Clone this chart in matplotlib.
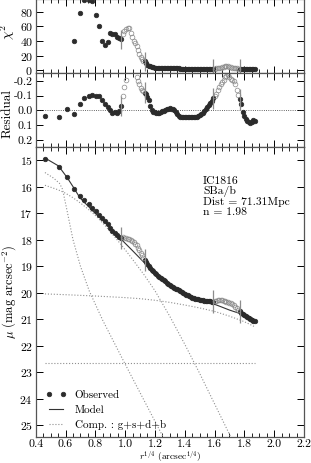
import numpy as np
import matplotlib
matplotlib.use('Agg')
import matplotlib.pyplot as plt
from matplotlib.lines import Line2D
from matplotlib.ticker import FormatStrFormatter

plt.rcParams['font.family'] = 'serif'
plt.rcParams['font.serif'] = ['cmr10']
plt.rcParams['mathtext.fontset'] = 'cm'
plt.rcParams['axes.formatter.use_mathtext'] = True

# observed profile, split into segments (filled = fitted, open = excluded)
x_inner = [0.465, 0.553, 0.611, 0.657, 0.695, 0.727, 0.756, 0.781, 0.805, 0.826,
           0.846, 0.865, 0.883, 0.899, 0.915, 0.930, 0.945, 0.958, 0.972]
mu_inner = [14.97, 15.26, 15.65, 16.09, 16.36, 16.52, 16.66, 16.80, 16.94, 17.06,
            17.17, 17.30, 17.43, 17.55, 17.66, 17.75, 17.84, 17.90, 17.95]
res_inner = [0.039, 0.043, -0.009, 0.027, -0.045, -0.081, -0.095, -0.105, -0.097, -0.095,
             -0.070, -0.045, -0.020, 0.000, 0.020, 0.014, 0.020, 0.005, -0.030]
chi_inner = [150, 140, 130, 40, 79, 96, 96, 95, 75, 61, 40, 35, 38, 51, 50, 49, 45, 44, 42]

x_bump1 = [0.983, 0.995, 1.006, 1.018, 1.028, 1.039, 1.049, 1.059, 1.069, 1.078,
           1.087, 1.096, 1.105, 1.114, 1.122]
mu_bump1 = [17.92, 17.93, 17.94, 17.96, 17.98, 18.01, 18.05, 18.09, 18.15, 18.22,
            18.30, 18.40, 18.50, 18.60, 18.70]
res_bump1 = [-0.097, -0.160, -0.205, -0.270, -0.300, -0.320, -0.320, -0.300, -0.270, -0.227,
             -0.200, -0.175, -0.150, -0.138, -0.128]
chi_bump1 = [50, 54, 57, 58, 58, 51, 46, 40, 37, 33, 27, 22, 18, 15, 13]

x_mid = [1.13, 1.14, 1.15, 1.16, 1.17, 1.18, 1.19, 1.20, 1.21, 1.22, 1.23, 1.24,
         1.25, 1.26, 1.27, 1.28, 1.29, 1.30, 1.31, 1.32, 1.33, 1.34, 1.35, 1.36,
         1.37, 1.38, 1.39, 1.40, 1.41, 1.42, 1.43, 1.44, 1.45, 1.46, 1.47, 1.48,
         1.49, 1.50, 1.51, 1.52, 1.53, 1.54, 1.55, 1.56, 1.57, 1.58, 1.59]
mu_mid = [18.78, 18.86, 18.93, 19.00, 19.07, 19.13, 19.19, 19.25, 19.31, 19.36, 19.41, 19.45,
          19.50, 19.54, 19.58, 19.62, 19.66, 19.70, 19.74, 19.78, 19.81, 19.85, 19.88, 19.92,
          19.95, 19.99, 20.02, 20.05, 20.08, 20.11, 20.14, 20.17, 20.19, 20.21, 20.23, 20.24,
          20.26, 20.27, 20.28, 20.29, 20.30, 20.31, 20.32, 20.33, 20.33, 20.34, 20.34]
res_mid = [-0.119, -0.108, -0.090, -0.068, -0.030, -0.005, 0.008, 0.014, 0.016, 0.017, 0.016, 0.012,
           0.006, 0.002, -0.002, -0.008, -0.012, -0.013, -0.012, -0.008, 0.000, 0.012, 0.025, 0.035,
           0.043, 0.046, 0.047, 0.047, 0.047, 0.047, 0.047, 0.047, 0.047, 0.046, 0.044, 0.042,
           0.039, 0.032, 0.024, 0.016, 0.005, -0.008, -0.022, -0.036, -0.050, -0.065, -0.081]
chi_mid = [12, 9.5, 7.5, 6.0, 5.0, 4.2, 3.6, 3.2, 3.0, 2.9, 2.8, 2.8,
           2.7, 2.7, 2.6, 2.6, 2.5, 2.5, 2.4, 2.4, 2.4, 2.3, 2.3, 2.3,
           2.2, 2.2, 2.2, 2.1, 2.1, 2.1, 2.1, 2.0, 2.0, 2.0, 2.0, 2.0,
           1.9, 1.9, 1.9, 1.9, 1.9, 1.9, 1.8, 1.8, 1.8, 1.8, 1.8]

x_bump2 = [1.60, 1.61, 1.62, 1.63, 1.64, 1.65, 1.66, 1.67, 1.68, 1.69, 1.70, 1.71,
           1.72, 1.73, 1.74, 1.75, 1.76]
mu_bump2 = [20.32, 20.30, 20.28, 20.27, 20.27, 20.28, 20.30, 20.32, 20.34, 20.36, 20.38, 20.41,
            20.44, 20.48, 20.53, 20.58, 20.65]
res_bump2 = [-0.098, -0.113, -0.135, -0.160, -0.180, -0.195, -0.207, -0.225, -0.235, -0.240,
             -0.228, -0.214, -0.208, -0.200, -0.180, -0.135, -0.105]
chi_bump2 = [2.0, 2.3, 2.6, 3.0, 3.5, 4.0, 4.6, 5.2, 5.6, 5.4, 4.8, 4.0, 3.4, 3.0, 2.6, 2.4, 2.2]

x_outer = [1.77, 1.78, 1.79, 1.80, 1.81, 1.82, 1.83, 1.84, 1.85, 1.86, 1.87]
mu_outer = [20.71, 20.76, 20.81, 20.86, 20.90, 20.94, 20.97, 21.00, 21.03, 21.06, 21.09]
res_outer = [-0.075, -0.040, 0.010, 0.040, 0.055, 0.070, 0.080, 0.084, 0.080, 0.066, 0.072]
chi_outer = [2.1, 2.0, 1.9, 1.8, 1.7, 1.6, 1.6, 1.5, 1.5, 1.4, 1.2]

# model
model_x = [0.465, 0.553, 0.611, 0.657, 0.695, 0.727, 0.756, 0.781, 0.805, 0.826, 0.846,
           0.865, 0.883, 0.899, 0.915, 0.930, 0.945, 0.958, 0.972, 1.05, 1.13, 1.17,
           1.21, 1.26, 1.30, 1.35, 1.40, 1.45, 1.50, 1.55, 1.59, 1.65, 1.70, 1.77,
           1.80, 1.84, 1.87]
model_mu = [14.93, 15.22, 15.66, 16.06, 16.41, 16.60, 16.76, 16.91, 17.04, 17.16, 17.24,
            17.35, 17.45, 17.55, 17.64, 17.74, 17.82, 17.90, 17.98, 18.42, 18.88, 19.10,
            19.29, 19.54, 19.71, 19.86, 20.00, 20.14, 20.24, 20.34, 20.42, 20.55, 20.66, 20.79,
            20.82, 20.92, 21.02]

# components: g, s, d, b
comp_g_x = [0.462, 1.87]
comp_g_mu = [22.65, 22.65]
comp_s_x = [0.462, 0.55, 0.60, 0.65, 0.70, 0.75, 0.81, 0.87, 0.93, 0.97, 1.03, 1.13,
            1.20, 1.30, 1.40, 1.50, 1.60, 1.70, 1.75]
comp_s_mu = [15.95, 16.12, 16.25, 16.42, 16.62, 16.84, 17.14, 17.50, 17.90, 18.17, 18.60, 19.35,
             19.93, 20.90, 21.95, 23.05, 24.20, 25.35, 25.95]
comp_d_x = [0.462, 0.6, 0.8, 1.0, 1.1, 1.2, 1.3, 1.4, 1.5, 1.6, 1.7, 1.8, 1.87]
comp_d_mu = [20.05, 20.08, 20.13, 20.19, 20.23, 20.29, 20.37, 20.47, 20.58, 20.71, 20.89, 21.10, 21.29]
comp_b_x = [0.462, 0.52, 0.56, 0.58, 0.61, 0.65, 0.70, 0.76, 0.85, 1.0, 1.256, 1.30]
comp_b_mu = [15.47, 15.68, 15.88, 16.10, 16.90, 18.00, 19.00, 19.95, 21.05, 22.70, 25.46, 25.95]

# break radii and marker centres
brk_x = [0.972, 1.13, 1.59, 1.77]
brk_chi = [42, 12, 1.8, 2.1]
brk_res = [-0.03, -0.119, -0.081, -0.075]
brk_mu = [17.95, 18.78, 20.34, 20.71]

fig = plt.figure(figsize=(3.11, 4.63), dpi=100)
L, W = 0.1148, 0.8627
ax1 = fig.add_axes([L, 0.8415, W, 0.1598])
ax2 = fig.add_axes([L, 0.6817, W, 0.1598])
ax3 = fig.add_axes([L, 0.0562, W, 0.6255])

fill_kw = dict(ls='none', marker='o', ms=3.3, mfc='#2b2b2b', mec='#2b2b2b', mew=0.5)
open_kw = dict(ls='none', marker='o', ms=3.4, mfc='none', mec='#8a8a8a', mew=0.5)
brk_col = '#8c8c8c'

# chi^2
for xs, ys in [(x_inner, chi_inner), (x_mid, chi_mid), (x_outer, chi_outer)]:
    ax1.plot(xs, ys, **fill_kw)
for xs, ys in [(x_bump1, chi_bump1), (x_bump2, chi_bump2)]:
    ax1.plot(xs, ys, **open_kw)
ax1.vlines(brk_x, np.array(brk_chi) - 13, np.array(brk_chi) + 13, color=brk_col, lw=0.9)
ax1.set_ylim(-4.5, 97)
ax1.set_yticks([0, 20, 40, 60, 80])
ax1.set_ylabel(r'$\chi^2$', fontsize=10)
ax1.yaxis.set_label_coords(-0.068, 0.56)

# residual
ax2.axhline(0, color='#333333', lw=0.6, ls=':')
for xs, ys in [(x_inner, res_inner), (x_mid, res_mid), (x_outer, res_outer)]:
    ax2.plot(xs, ys, **fill_kw)
for xs, ys in [(x_bump1, res_bump1), (x_bump2, res_bump2)]:
    ax2.plot(xs, ys, **open_kw)
ax2.vlines(brk_x, np.array(brk_res) - 0.07, np.array(brk_res) + 0.07, color=brk_col, lw=0.9)
ax2.set_ylim(0.25, -0.25)
ax2.set_yticks([-0.2, -0.1, 0.0, 0.1, 0.2])
ax2.set_ylabel('Residual', fontsize=9.5)
ax2.yaxis.set_label_coords(-0.083, 0.46)

# surface brightness profile
comp_kw = dict(color='#8f8f8f', lw=0.8, ls=':')
ax3.plot(comp_g_x, comp_g_mu, **comp_kw)
ax3.plot(comp_s_x, comp_s_mu, **comp_kw)
ax3.plot(comp_d_x, comp_d_mu, **comp_kw)
ax3.plot(comp_b_x, comp_b_mu, **comp_kw)
ax3.plot(model_x, model_mu, color='#333333', lw=0.8)
for xs, ys in [(x_inner, mu_inner), (x_mid, mu_mid), (x_outer, mu_outer)]:
    ax3.plot(xs, ys, **fill_kw)
for xs, ys in [(x_bump1, mu_bump1), (x_bump2, mu_bump2)]:
    ax3.plot(xs, ys, **open_kw)
ax3.vlines(brk_x, np.array(brk_mu) - 0.42, np.array(brk_mu) + 0.42, color=brk_col, lw=0.9)
ax3.set_ylim(25.45, 14.52)
ax3.set_yticks(range(15, 26))
ax3.set_ylabel(r'$\mu$ (mag arcsec$^{-2}$)', fontsize=9)
ax3.yaxis.set_label_coords(-0.065, 0.5)
ax3.set_xlabel(r'$r^{1/4}$ (arcsec$^{1/4}$)', fontsize=6.8)
ax3.xaxis.set_label_coords(0.5, -0.041)

ax3.text(1.524, 15.62, 'IC1816\nSBa/b\nDist = 71.31Mpc\nn = 1.98',
         fontsize=8.4, va='top', ha='left', linespacing=1.0)

handles = [Line2D([], [], **fill_kw),
           Line2D([], [], color='#333333', lw=0.8),
           Line2D([], [], **comp_kw)]
ax3.legend(handles, ['Observed', 'Model', 'Comp. : g+s+d+b'], loc='lower left',
           bbox_to_anchor=(0.038, 0.025), frameon=False, fontsize=8, numpoints=2,
           handlelength=1.8, handletextpad=0.8, labelspacing=0.45, borderpad=0,
           borderaxespad=0)

for ax in (ax1, ax2, ax3):
    ax.set_xlim(0.4, 2.2)
    ax.set_xticks(np.arange(0.4, 2.21, 0.2))
    ax.set_xticks(np.arange(0.4, 2.21, 0.05), minor=True)
    ax.tick_params(which='both', direction='in', top=True, right=True, labelsize=8.5, pad=2.0)
    ax.tick_params(which='major', length=5, width=0.7)
    ax.tick_params(which='minor', length=3, width=0.6)
    for s in ax.spines.values():
        s.set_linewidth(0.9)
        s.set_color('#555555')
ax1.tick_params(labelbottom=False)
ax2.tick_params(labelbottom=False)
ax3.xaxis.set_major_formatter(FormatStrFormatter('%.1f'))
ax2.yaxis.set_major_formatter(FormatStrFormatter('%.1f'))

fig.savefig('out.png', dpi=100)
